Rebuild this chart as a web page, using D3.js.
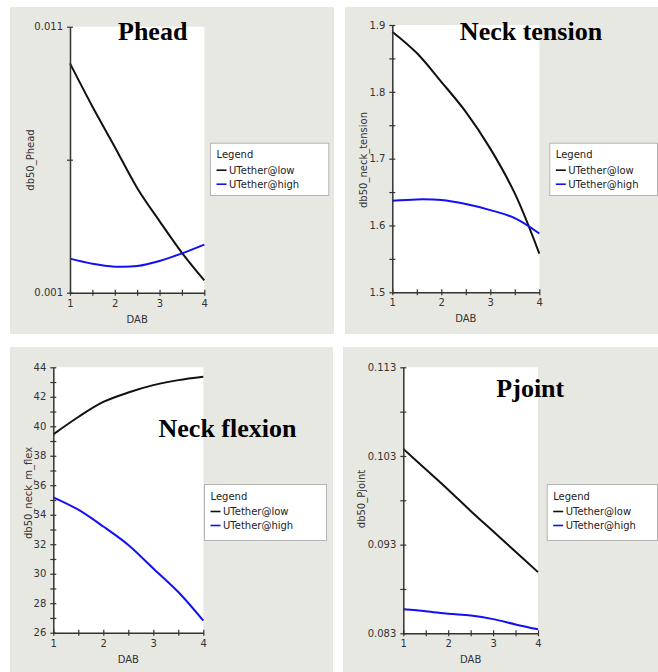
<!DOCTYPE html>
<html><head><meta charset="utf-8">
<script src="https://cdn.jsdelivr.net/npm/d3@7"></script>
<style>body{margin:0;background:#fff}svg{display:block}</style>
</head><body><svg id="c" width="658" height="672"></svg>
<script>
// ---- data ----
const dab = [1, 1.5, 2, 2.5, 3, 3.5, 4];
const xTicks = [1, 1.5, 2, 2.5, 3, 3.5, 4];
const xTickLabels = ["1", "", "2", "", "3", "", "4"];
const seriesNames = ["UTether@low", "UTether@high"];
const titles = ["Phead", "Neck tension", "Neck flexion", "Pjoint"];
const yTitles = ["db50_Phead", "db50_neck_tension", "db50_neck_m_flex", "db50_Pjoint"];

const pheadLow  = [0.00962, 0.0080, 0.00648, 0.00494, 0.00369, 0.0025, 0.00146];
const pheadHigh = [0.00228, 0.00209, 0.00198, 0.0020, 0.00219, 0.00248, 0.00281];
const pheadYTicks  = [0.001, 0.006, 0.011];
const pheadYLabels = ["0.001", "", "0.011"];

const tensionLow  = [1.890, 1.858, 1.815, 1.770, 1.715, 1.648, 1.558];
const tensionHigh = [1.637, 1.639, 1.638, 1.632, 1.623, 1.611, 1.588];
const tensionYTicks  = [1.5, 1.55, 1.6, 1.65, 1.7, 1.75, 1.8, 1.85, 1.9];
const tensionYLabels = ["1.5", "", "1.6", "", "1.7", "", "1.8", "", "1.9"];

const flexLow  = [39.45, 40.63, 41.65, 42.29, 42.79, 43.13, 43.36];
const flexHigh = [35.18, 34.34, 33.20, 31.95, 30.36, 28.76, 26.82];
const flexYTicks  = [26,27,28,29,30,31,32,33,34,35,36,37,38,39,40,41,42,43,44];
const flexYLabels = ["26","","28","","30","","32","","34","","36","","38","","40","","42","","44"];

const pjointLow  = [0.1038, 0.1015, 0.0992, 0.0968, 0.0945, 0.0922, 0.0899];
const pjointHigh = [0.0857, 0.0855, 0.0852, 0.0850, 0.0846, 0.0840, 0.08345];
const pjointYTicks  = [0.083, 0.088, 0.093, 0.098, 0.103, 0.108, 0.113];
const pjointYLabels = ["0.083", "", "0.093", "", "0.103", "", "0.113"];

// ---- layout ----
const colors = ["#111111", "#1010f5"];
const panels = [
  {low: pheadLow, high: pheadHigh, yt: pheadYTicks, yl: pheadYLabels,
   bg: [10, 7, 334, 334], plot: [70, 26.7, 204.3, 292.7], title: [152.7, 40], ylab: [30, 160], legend: [210, 142.7, 328.3, 195]},
  {low: tensionLow, high: tensionHigh, yt: tensionYTicks, yl: tensionYLabels,
   bg: [345, 7, 658, 334], plot: [392.3, 25, 539.3, 292.3], title: [531, 40], ylab: [363.3, 160], legend: [549.3, 142.7, 657, 195]},
  {low: flexLow, high: flexHigh, yt: flexYTicks, yl: flexYLabels,
   bg: [10, 347, 333, 672], plot: [53.3, 367.3, 203.3, 632.7], title: [227.5, 437], ylab: [28.3, 493], legend: [204, 484, 326, 540]},
  {low: pjointLow, high: pjointHigh, yt: pjointYTicks, yl: pjointYLabels,
   bg: [343, 347, 658, 672], plot: [403.3, 367.3, 538, 633.3], title: [530.3, 397.3], ylab: [361.7, 499], legend: [546.7, 484, 657, 540]}
];

const svg = d3.select("#c");
const FONT = "'DejaVu Sans', Verdana, sans-serif";

panels.forEach((p, i) => {
  const g = svg.append("g");
  g.append("rect").attr("x", p.bg[0]).attr("y", p.bg[1])
    .attr("width", p.bg[2] - p.bg[0]).attr("height", p.bg[3] - p.bg[1]).attr("fill", "#e8e8e3");
  const [x0, y0, x1, y1] = p.plot;
  g.append("rect").attr("x", x0).attr("y", y0).attr("width", x1 - x0).attr("height", y1 - y0).attr("fill", "#fff");

  const x = d3.scaleLinear().domain([1, 4]).range([x0, x1]);
  const y = d3.scaleLinear().domain([p.yt[0], p.yt[p.yt.length - 1]]).range([y1, y0]);

  // title
  g.append("text").attr("x", p.title[0]).attr("y", p.title[1]).attr("text-anchor", "middle")
    .attr("font-family", "'Liberation Serif','Times New Roman',serif").attr("font-weight", "bold")
    .attr("font-size", 26).attr("fill", "#000").text(titles[i]);

  // lines
  const line = d3.line().x(d => x(d[0])).y(d => y(d[1])).curve(d3.curveCatmullRom.alpha(0.5));
  [p.low, p.high].forEach((vals, k) => {
    g.append("path").datum(dab.map((d, j) => [d, vals[j]]))
      .attr("d", line).attr("fill", "none").attr("stroke", colors[k]).attr("stroke-width", 2);
  });

  // axes
  const ya = g.append("g").attr("transform", `translate(${x0},0)`)
    .call(d3.axisLeft(y).tickValues(p.yt).tickFormat((d, j) => p.yl[j]).tickSize(3).tickPadding(4).tickSizeOuter(0));
  ya.selectAll(".tick line").attr("x1", 3).attr("x2", -3);
  const xa = g.append("g").attr("transform", `translate(0,${y1})`)
    .call(d3.axisBottom(x).tickValues(xTicks).tickFormat((d, j) => xTickLabels[j]).tickSize(3).tickPadding(4).tickSizeOuter(0));
  xa.selectAll(".tick line").attr("y1", -3).attr("y2", 3);
  [ya, xa].forEach(a => {
    a.select(".domain").attr("stroke", "#333").attr("stroke-width", 1.5);
    a.selectAll(".tick line").attr("stroke", "#333").attr("stroke-width", 1.2);
    a.selectAll("text").attr("font-family", FONT).attr("font-size", 10).attr("fill", "#333");
  });

  // axis titles
  g.append("text").attr("x", (x0 + x1) / 2).attr("y", y1 + 30).attr("text-anchor", "middle")
    .attr("font-family", FONT).attr("font-size", 10).attr("fill", "#333").text("DAB");
  g.append("text").attr("transform", `translate(${p.ylab[0]},${p.ylab[1]}) rotate(-90)`)
    .attr("dy", "0.35em").attr("text-anchor", "middle")
    .attr("font-family", FONT).attr("font-size", 10).attr("fill", "#333").text(yTitles[i]);

  // legend
  const [lx0, ly0, lx1, ly1] = p.legend;
  const lg = g.append("g");
  lg.append("rect").attr("x", lx0 + 0.5).attr("y", ly0 + 0.5).attr("width", lx1 - lx0).attr("height", ly1 - ly0)
    .attr("fill", "#fff").attr("stroke", "#b4b4b4");
  lg.append("text").attr("x", lx0 + 6.5).attr("y", ly0 + 15.5).attr("font-family", FONT).attr("font-size", 10)
    .attr("fill", "#222").text("Legend");
  seriesNames.forEach((s, k) => {
    const yy = ly0 + 27.5 + k * 14;
    lg.append("line").attr("x1", lx0 + 6.5).attr("x2", lx0 + 16.5).attr("y1", yy).attr("y2", yy)
      .attr("stroke", colors[k]).attr("stroke-width", 1.6);
    lg.append("text").attr("x", lx0 + 19).attr("y", yy + 3.7).attr("font-family", FONT).attr("font-size", 10)
      .attr("fill", "#222").text(s);
  });
});
</script></body></html>
